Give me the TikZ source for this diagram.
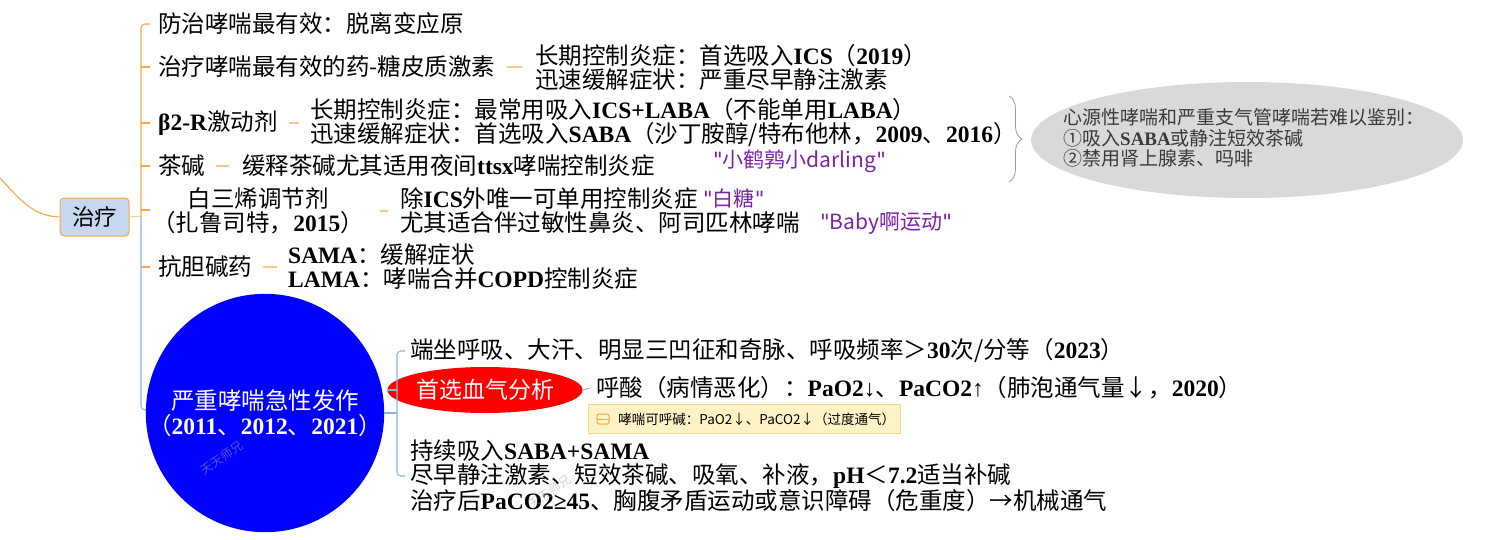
\documentclass[tikz,border=0pt]{standalone}
\usepackage{fontspec}
\setmainfont{Noto Sans CJK SC}
\newfontfamily\tms{Liberation Serif}
\newfontfamily\dv{DejaVu Sans}
\usetikzlibrary{decorations.pathreplacing,shapes.geometric}
\newcommand\B[1]{{\tms\bfseries #1}}
\newcommand\qq{{\dv\char"22}}
\definecolor{orl}{HTML}{F7A743}
\definecolor{orlight}{HTML}{FBC68C}
\definecolor{bll}{HTML}{8EB4E3}
\definecolor{nodefill}{HTML}{C5D8F0}
\definecolor{purp}{HTML}{7B22A8}
\definecolor{ellgray}{HTML}{D9D9D9}
\definecolor{elltext}{HTML}{3A3A3A}
\definecolor{notefill}{HTML}{FFF3C6}
\definecolor{noteborder}{HTML}{F0DA8A}
\definecolor{pureblue}{HTML}{0000FF}
\definecolor{purered}{HTML}{FF0000}
\begin{document}
\begin{tikzpicture}[x=1pt,y=-1pt,
  txt/.style={anchor=west,inner sep=0,align=left,font=\fontsize{23.5}{24}\selectfont},
  hand/.style={anchor=west,inner sep=0,text=purp,font=\fontsize{21}{22}\selectfont\itshape},
  spine/.style={draw=orl,line width=1.1pt},
  bspine/.style={draw=bll,line width=1.1pt},
  dashc/.style={draw=orlight,line width=1.6pt},
  wm/.style={text=gray!70,opacity=0.5,font=\fontsize{12}{13}\selectfont,rotate=35,inner sep=0}]
\useasboundingbox (0,0) rectangle (1487,539);

% root node
\node[draw=orl,line width=1pt,fill=nodefill,rounded corners=4pt,minimum width=69pt,minimum height=38pt,inner sep=0,
  font=\fontsize{22.5}{23}\selectfont] (n0) at (94.5,217) {治疗};
\coordinate (L) at (0,178);
\draw[spine] (L) .. controls (22,202) and (34,216) .. (n0.west);

% children
\node[txt] (a1) at (158,24) {防治哮喘最有效：脱离变应原};
\node[txt] (a2) at (158,67) {治疗哮喘最有效的药-糖皮质激素};
\node[txt] (a2c) at (535,67) {长期控制炎症：首选吸入\B{ICS}（\B{2019}）\\迅速缓解症状：严重尽早静注激素};
\node[txt] (a3) at (158,123) {\B{β2-R}激动剂};
\node[txt] (a3c) at (310,123) {长期控制炎症：最常用吸入\B{ICS+LABA}（不能单用\B{LABA}）\\迅速缓解症状：首选吸入\B{SABA}（沙丁胺醇/特布他林，\B{2009}、\B{2016}）};
\node[txt] (a4) at (158,166) {茶碱};
\node[txt] (a4c) at (242,166) {缓释茶碱尤其适用夜间\B{ttsx}哮喘控制炎症};
\node[hand] (h1) at (713,161) {\qq 小鹤鹑小darling\qq};
\node[txt,anchor=center,align=center] (a5) at (258,211) {白三烯调节剂\\（扎鲁司特，\B{2015}）};
\node[txt] (a5c) at (400,211) {除\B{ICS}外唯一可单用控制炎症\\尤其适合伴过敏性鼻炎、阿司匹林哮喘};
\node[hand] (h2) at (703,198) {\qq 白糖\qq};
\node[hand] (h3) at (820,223) {\qq Baby啊运动\qq};
\node[txt] (a6) at (158,267) {抗胆碱药};
\node[txt] (a6c) at (288,267) {\B{SAMA}：缓解症状\\\B{LAMA}：哮喘合并\B{COPD}控制炎症};

% brace and grey ellipse
\coordinate (brT) at (1009,96);
\coordinate (brB) at (1009,182);
\draw[gray!80,line width=0.8pt,decorate,decoration={brace,amplitude=13pt}] (brT) -- (brB);
\node[ellipse,fill=ellgray,minimum width=432pt,minimum height=116pt,inner sep=0] (e1) at (1247,140) {};
\node[anchor=west,inner sep=0,align=left,text=elltext,font=\fontsize{19}{20.5}\selectfont] (e1t) at (1063,138)
  {心源性哮喘和严重支气管哮喘若难以鉴别：\\①吸入\B{SABA}或静注短效茶碱\\②禁用肾上腺素、吗啡};

% spine
\coordinate (sp) at (141,216);
\draw[draw=orlight,line width=1pt] (n0.east) -- (sp);
\draw[spine,rounded corners=4pt] ([xshift=-8pt]a1.west) -- (141,24) -- (sp);
\foreach \n/\y in {a2/67,a3/123,a4/166,a6/267}{
  \draw[spine] (141,\y) -- ([xshift=-8pt]\n.west);
}
\draw[spine] (141,210) -- (150,210);
\draw[bspine,rounded corners=4pt] (sp) -- (141,410) -- (148,410);

% dashes
\draw[dashc] ([xshift=11pt]a2.east) -- ([xshift=-13pt]a2c.west);
\draw[dashc] ([xshift=11pt]a3.east) -- ([xshift=-11pt]a3c.west);
\draw[dashc] ([xshift=11pt]a4.east) -- ([xshift=-13pt]a4c.west);
\draw[dashc] ([xshift=16pt]a5.east) -- ([xshift=-12pt]a5c.west);
\draw[dashc] ([xshift=11pt]a6.east) -- ([xshift=-11pt]a6c.west);

% severe attack circle
\node[circle,fill=pureblue,minimum size=234pt,inner sep=0,text=white,align=center,
  font=\fontsize{23.5}{25}\selectfont] (c) at (265,413) {严重哮喘急性发作\\（\B{2011}、\B{2012}、\B{2021}）};
\node[wm] (w1) at (222,458) {天天师兄};

\node[txt] (b1) at (410,351) {端坐呼吸、大汗、明显三凹征和奇脉、呼吸频率＞\B{30}次/分等（\B{2023}）};
\node[ellipse,fill=purered,minimum width=170pt,minimum height=46pt,inner sep=0,text=white,
  font=\fontsize{23}{24}\selectfont] (r) at (485,390) {首选血气分析};
\node[txt] (b2) at (596,388) {呼酸（病情恶化）：\B{PaO2↓}、\B{PaCO2↑}（肺泡通气量↓，\B{2020}）};
\node[anchor=west,draw=noteborder,fill=notefill,line width=0.8pt,minimum height=29pt,inner ysep=0,
  inner xsep=0,text width=312pt,font=\fontsize{13.5}{14}\selectfont] (nt) at (588,419)
  {\hspace*{30pt}哮喘可呼碱：PaO2↓、PaCO2↓（过度通气）};
\node[draw=orl,line width=1pt,rounded corners=2pt,minimum width=12pt,minimum height=10pt,inner sep=0] (ic) at (603,419) {};
\draw[orl,line width=1pt] (ic.west) -- (ic.east);
\node[txt] (b3) at (410,476) {持续吸入\B{SABA+SAMA}\\尽早静注激素、短效茶碱、吸氧、补液，\B{pH}＜\B{7.2}适当补碱\\治疗后\B{PaCO2≥45}、胸腹矛盾运动或意识障碍（危重度）→机械通气};
\node[wm] (w2) at (550,492) {天天师兄};

% sub spine
\coordinate (sq) at (397,413);
\draw[bspine] (c.east) -- (sq);
\draw[bspine,rounded corners=4pt] ([xshift=-5pt]b1.west) -- (397,351) -- (397,476) -- ([xshift=-5pt]b3.west);
\draw[bspine] (397,390) -- (r.west);
\draw[bspine] (r.east) -- ([xshift=-6pt]b2.west);
\end{tikzpicture}
\end{document}
